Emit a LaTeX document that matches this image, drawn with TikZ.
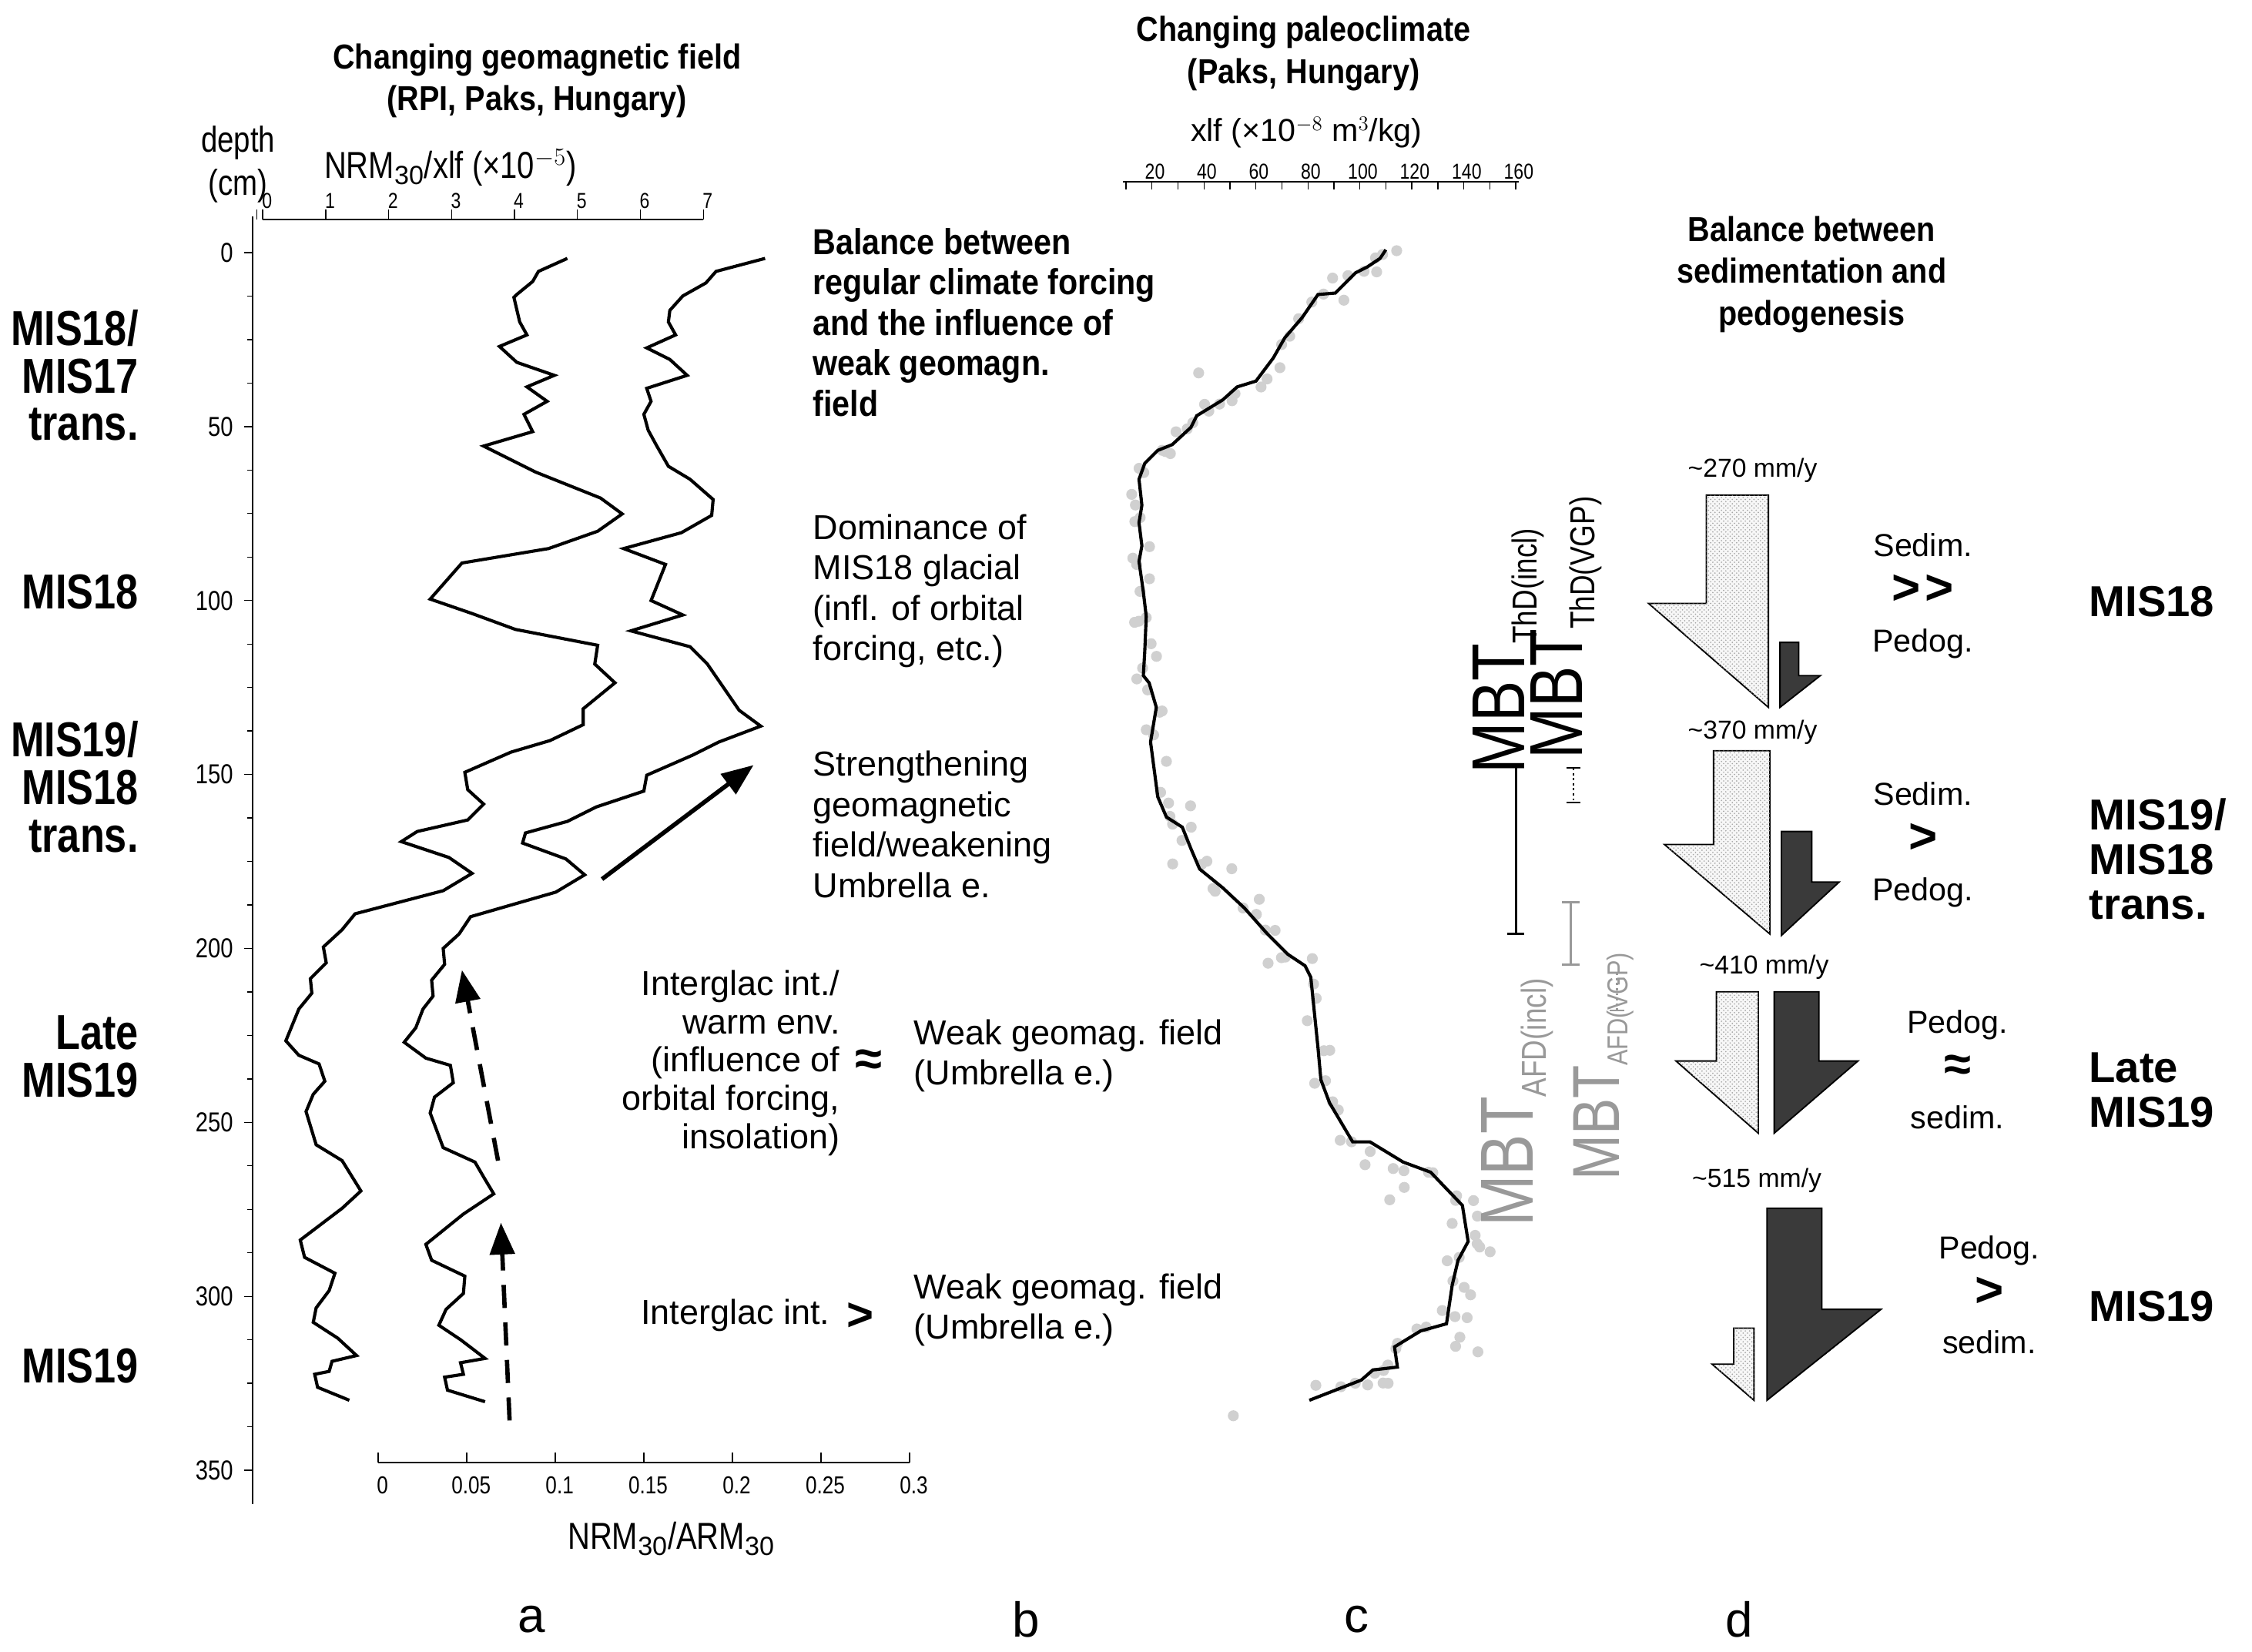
\documentclass[tikz,border=0pt]{standalone}
\usepackage{fontspec}
\setmainfont{Liberation Sans}
\newfontfamily\narrow{Liberation Sans}[FakeStretch=0.82]
\newfontfamily\semi{Liberation Sans}[FakeStretch=0.88]
\usetikzlibrary{patterns,arrows.meta}
\definecolor{dk}{HTML}{3A3A3A}
\definecolor{gr}{HTML}{999999}
\definecolor{dot}{HTML}{D0D0D0}
\begin{document}
\begin{tikzpicture}[x=1pt,y=-1pt,
 curve/.style={line width=2.2pt,line join=miter},
 ax/.style={line width=1.3pt},
 tk/.style={line width=0.7pt},
 tl/.style={font=\narrow\fontsize{15}{15}\selectfont},
 body/.style={font=\fontsize{23}{27}\selectfont,align=left,anchor=north west,inner sep=0},
 narrowbody/.style={font=\narrow\fontsize{26}{28}\selectfont,inner sep=0},
 ttl/.style={font=\semi\bfseries\fontsize{24}{29}\selectfont,align=center,inner sep=0},
 mis/.style={font=\narrow\bfseries\fontsize{34}{33}\selectfont,align=right,anchor=east,inner sep=0},
 misr/.style={font=\bfseries\fontsize{30}{31}\selectfont,align=left,anchor=west,inner sep=0},
 rel/.style={font=\fontsize{22}{37}\selectfont,align=center,inner sep=0},
 stip/.style={draw,line width=1pt,fill=gray!6,postaction={pattern=crosshatch dots,pattern color=gray!70}},
 dark/.style={draw,line width=1pt,fill=dk},
 mbt/.style={font=\narrow\fontsize{52}{52}\selectfont,rotate=90,inner sep=0},
 lab/.style={font=\fontsize{34}{34}\selectfont}]
\useasboundingbox (0,0) rectangle (1560,1144);
% ---------- panel a axes
\draw[ax] (175,150) -- (175,1042);
\draw[ax] (182,152) -- (487,152);
\foreach \k in {0,...,7}{
  \draw[tk] (182+43.6*\k,152) -- (182+43.6*\k,145);
  \node[tl] (ta\k) at (185+43.6*\k,139) {\k};}
\draw[tk] (178,145)--(178,152);
\foreach \d in {0,50,...,350}{
  \draw[tk] (175,175+2.41*\d) -- (169,175+2.41*\d);
  \node[tl,anchor=east,font=\narrow\fontsize{19}{19}\selectfont] (dl\d) at (165,175+2.41*\d) {\d};}
\foreach \d in {12.5,25,37.5,62.5,75,87.5,112.5,125,137.5,162.5,175,187.5,212.5,225,237.5,262.5,275,287.5,312.5,325,337.5}{
  \draw[tk] (175,175+2.41*\d) -- (171,175+2.41*\d);}
\draw[ax] (262,1013) -- (630,1013);
\foreach \v/\t [count=\i] in {0/0,0.05/0.05,0.1/0.1,0.15/0.15,0.2/0.2,0.25/0.25,0.3/0.3}{
  \draw[tk] (262+1226.7*\v,1013) -- (262+1226.7*\v,1006);
  \node[tl,font=\narrow\fontsize{17}{17}\selectfont] (tb\i) at (265+1226.7*\v,1029) {\t};}
\node[narrowbody] (xl1) at (312,116) {NRM$_{\mathrm{30}}$/xlf (×10$^{-5}$)};
\node[narrowbody] (xl2) at (465,1066) {NRM$_{\mathrm{30}}$/ARM$_{\mathrm{30}}$};
\node[narrowbody,align=center,font=\narrow\fontsize{25}{30}\selectfont] (dep) at (165,114) {depth\\(cm)};
\node[ttl] (t1) at (372,56) {Changing geomagnetic field\\(RPI, Paks, Hungary)};
% curves
\draw[curve] (393,179)--(373,188)--(369,195)--(358,204)--(356,206)--(360,223)--(365,232)--(346,240)--(358,251)--(384,260)--(365,268)--(379,278)--(363,287)--(369,299)--(335,309)--(371,327)--(416,345)--(431,356)--(414,368)--(380,380)--(320,390)--(298,415)--(327,425)--(357,436)--(414,447)--(412,460)--(426,473)--(404,491)--(404,502)--(381,513)--(354,521)--(322,535)--(324,547)--(335,557)--(324,568)--(289,576)--(278,583)--(311,594)--(327,605)--(307,617)--(246,633)--(237,644)--(224,656)--(226,667)--(215,678)--(216,688)--(207,699)--(198,721)--(207,731)--(221,737)--(225,749)--(217,758)--(212,770)--(219,793)--(237,804)--(250,825)--(237,837)--(208,859)--(211,871)--(232,882)--(228,894)--(219,906)--(217,916)--(234,927)--(247,939)--(230,943)--(228,950)--(218,952)--(220,961)--(242,970);
\draw[curve] (530,179)--(496,188)--(489,196)--(473,205)--(464,215)--(463,223)--(468,232)--(448,241)--(464,249)--(476,260)--(448,269)--(451,278)--(446,287)--(449,298)--(455,309)--(463,323)--(478,332)--(494,346)--(493,357)--(472,369)--(432,380)--(461,391)--(451,416)--(473,426)--(437,437)--(478,448)--(490,460)--(512,492)--(527,503)--(498,514)--(480,523)--(448,537)--(446,548)--(413,559)--(393,569)--(364,577)--(362,584)--(392,595)--(405,606)--(385,618)--(326,635)--(318,647)--(307,657)--(308,668)--(299,679)--(300,690)--(293,699)--(288,712)--(280,722)--(295,733)--(312,738)--(314,750)--(301,760)--(298,771)--(307,795)--(329,805)--(336,817)--(342,827)--(321,841)--(295,862)--(299,873)--(322,884)--(321,896)--(309,907)--(304,918)--(319,928)--(336,941)--(319,944)--(321,952)--(308,954)--(310,963)--(336,971);
\coordinate (s1) at (417,609); \coordinate (e1) at (522,530);
\draw[line width=3pt,-{Triangle[length=22pt,width=17pt]}] (s1) -- (e1);
\coordinate (s2) at (353,984); \coordinate (e2) at (347,847);
\draw[line width=3pt,dash pattern=on 16pt off 10pt,-{Triangle[length=22pt,width=17pt]}] (s2) -- (e2);
\coordinate (s3) at (345,804); \coordinate (e3) at (320,672);
\draw[line width=3pt,dash pattern=on 16pt off 10pt,-{Triangle[length=22pt,width=17pt]}] (s3) -- (e3);
% left MIS labels
\node[mis] (m1) at (96,260) {MIS18/\\MIS17\\trans.};
\node[mis] (m2) at (96,410) {MIS18};
\node[mis] (m3) at (96,545) {MIS19/\\MIS18\\trans.};
\node[mis] (m4) at (96,732) {Late\\MIS19};
\node[mis] (m5) at (96,946) {MIS19};
% texts b
\node[body,font=\semi\bfseries\fontsize{25}{28}\selectfont] (bal) at (563,158) {Balance between\\regular climate forcing\\and the influence of\\weak geomagn.\\field};
\node[body,font=\fontsize{24}{28}\selectfont] (dom) at (563,356) {Dominance of\\MIS18 glacial\\(infl. of orbital\\forcing, etc.)};
\node[body,font=\fontsize{24}{28}\selectfont] (str) at (563,520) {Strengthening\\geomagnetic\\field/weakening\\Umbrella e.};
\node[body,font=\fontsize{24}{26.5}\selectfont,align=right,anchor=north east] (ig1) at (582,672) {Interglac int./\\warm env.\\(influence of\\orbital forcing,\\insolation)};
\node[font=\bfseries\fontsize{34}{34}\selectfont,inner sep=0] (ap) at (602,736) {≈};
\node[body,font=\fontsize{24}{28}\selectfont] (wg1) at (633,706) {Weak geomag. field\\(Umbrella e.)};
\node[body,font=\fontsize{24}{28}\selectfont,anchor=east] (ig2) at (575,911) {Interglac int.};
\node[font=\bfseries\fontsize{32}{32}\selectfont,inner sep=0] (gt) at (596,912) {>};
\node[body,font=\fontsize{24}{28}\selectfont] (wg2) at (633,882) {Weak geomag. field\\(Umbrella e.)};
% panel c
\node[ttl] (t2) at (903,37) {Changing paleoclimate\\(Paks, Hungary)};
\node[narrowbody,font=\fontsize{22}{22}\selectfont] (xl3) at (905,92) {xlf (×10$^{-8}$ m$^3$/kg)};
\draw[tk,line width=1pt] (778,126) -- (1052,126);
\foreach \v in {10,20,...,160}{\draw[tk] (762+1.8*\v,126) -- (762+1.8*\v,131);}
\foreach \v in {20,40,...,160}{\node[tl] (tc\v) at (764+1.8*\v,119) {\v};}
\pgfmathsetseed{7}
\foreach \x/\y in {968/173,952/180,944/188,928/205,910/207,898/222,886/237,876/262,855/272,842/282,826/292,808/312,792/322,786/340,788/360,796/376,786/392,790/410,794/430,800/445,790/460,795/478,806/490,792/508,805/530,802/548,813/568,822/582,834/596,842/615,862/630,880/646,890/660,906/667,912/690,908/710,917/730,913/748,924/763,940/792,950/795,972/808,990/812,1008/834,1020/855,1014/872,1010/888,1000/910,990/920,970/930,960/946,952/952,940/960,965/958,1012/830,1022/845,1030/870,1018/895,1016/910,1010/925,1005/850,825/560,815/600,855/600,880/670,870/625,818/300,838/285,790/430,800/400,960/960,1005/930,1020/935,852/982,960/830,945/805,975/820,1026/862,830/258}{
  \pgfmathsetmacro{\dx}{rand*4}\pgfmathsetmacro{\dy}{rand*3}
  \fill[dot] (\x+\dx,\y+\dy) circle (3.8pt);}
\foreach \x/\y in {956/179,939/189,913/204,890/234,870/264,847/277,825/296,802/312,789/332,789/362,789/389,794/427,792/468,801/490,802/552,819/573,831/602,862/629,892/661,908/677,915/748,937/791,972/805,1013/835,1010/873,1002/917,966/933,951/949,935/958,920/963,791/350,793/451,797/514,808/566,847/615,878/647,913/726,921/764,991/812,1017/860,1006/890,984/922,943/956,960/186,929/197,880/252,836/283,812/308}{
  \pgfmathsetmacro{\dx}{rand*9}\pgfmathsetmacro{\dy}{rand*5}
  \fill[dot] (\x+\dx,\y+\dy) circle (3.8pt);}
\draw[line width=2.2pt] (960,173)--(956,179)--(947,185)--(939,189)--(925,203)--(913,204)--(902,220)--(890,234)--(882,248)--(870,264)--(857,268)--(847,277)--(829,288)--(825,296)--(812,308)--(802,312)--(793,321)--(789,332)--(791,350)--(789,362)--(791,378)--(789,389)--(792,410)--(794,427)--(793,451)--(792,468)--(796,473)--(801,490)--(797,514)--(802,552)--(808,566)--(819,573)--(825,588)--(831,602)--(847,615)--(862,629)--(878,647)--(892,661)--(904,669)--(908,677)--(913,726)--(915,748)--(921,764)--(937,791)--(949,791)--(972,805)--(991,812)--(1013,835)--(1017,860)--(1010,873)--(1006,890)--(1002,917)--(984,922)--(966,933)--(968,947)--(951,949)--(943,956)--(907,970);
% MBT bars
\draw[line width=1.5pt] (1050,530) -- (1050,647);
\draw[line width=1.5pt] (1044,530)--(1056,530) (1044,647)--(1056,647);
\draw[line width=1.5pt,dotted] (1090,532) -- (1090,556);
\draw[line width=1pt] (1085,532)--(1095,532) (1085,556)--(1095,556);
\draw[gr,line width=1.5pt] (1088,625) -- (1088,668);
\draw[gr,line width=1.5pt] (1082,625)--(1094,625) (1082,668)--(1094,668);
\draw[gr,line width=1.5pt,dotted] (1120,674) -- (1120,700);
\draw[gr,line width=1pt] (1115,674)--(1125,674) (1115,700)--(1125,700);
\node[mbt,anchor=south west] (mb1) at (1070,536) {MBT$_{\mbox{\narrow\fontsize{24}{24}\selectfont ThD(incl)}}$};
\node[mbt,anchor=south west] (mb2) at (1110,526) {MBT$_{\mbox{\narrow\fontsize{24}{24}\selectfont ThD(VGP)}}$};
\node[mbt,anchor=south west,text=gr] (mb3) at (1076,850) {MBT$_{\mbox{\narrow\fontsize{24}{24}\selectfont AFD(incl)}}$};
\node[mbt,anchor=south west,text=gr,font=\narrow\fontsize{46}{46}\selectfont] (mb4) at (1132,818) {MBT$_{\mbox{\narrow\fontsize{20}{20}\selectfont AFD(VGP)}}$};
% panel d
\node[ttl] (t3) at (1255,190) {Balance between\\sedimentation and\\pedogenesis};
\node[font=\fontsize{18}{18}\selectfont] (r1) at (1214,326) {\textasciitilde 270 mm/y};
\draw[stip] (1182,343)--(1225,343)--(1225,490)--(1142,418)--(1182,418)--cycle;
\draw[dark] (1233,445)--(1246,445)--(1246,468)--(1261,468)--(1233,490)--cycle;
\node[font=\fontsize{18}{18}\selectfont] (r2) at (1214,507) {\textasciitilde 370 mm/y};
\draw[stip] (1187,520)--(1226,520)--(1226,647)--(1153,585)--(1187,585)--cycle;
\draw[dark] (1234,576)--(1255,576)--(1255,611)--(1274,611)--(1234,648)--cycle;
\node[font=\fontsize{18}{18}\selectfont] (r3) at (1222,670) {\textasciitilde 410 mm/y};
\draw[stip] (1189,687)--(1218,687)--(1218,785)--(1161,735)--(1189,735)--cycle;
\draw[dark] (1229,687)--(1260,687)--(1260,735)--(1287,735)--(1229,785)--cycle;
\node[font=\fontsize{18}{18}\selectfont] (r4) at (1217,818) {\textasciitilde 515 mm/y};
\draw[stip] (1201,920)--(1215,920)--(1215,970)--(1186,945)--(1201,945)--cycle;
\draw[dark] (1224,837)--(1262,837)--(1262,907)--(1303,907)--(1224,970)--cycle;
\node[rel] (re1) at (1332,413) {Sedim.\\[-4pt]{\bfseries\fontsize{34}{34}\selectfont >\kern3pt>}\\[-4pt]Pedog.};
\node[rel] (re2) at (1332,585) {Sedim.\\[-4pt]{\bfseries\fontsize{34}{34}\selectfont >}\\[-4pt]Pedog.};
\node[rel] (re3) at (1356,741) {Pedog.\\[-4pt]{\bfseries\fontsize{34}{34}\selectfont ≈}\\[-4pt]sedim.};
\node[rel] (re4) at (1378,897) {Pedog.\\[-4pt]{\bfseries\fontsize{34}{34}\selectfont >}\\[-4pt]sedim.};
\node[misr] (n1) at (1447,417) {MIS18};
\node[misr] (n2) at (1447,595) {MIS19/\\MIS18\\trans.};
\node[misr] (n3) at (1447,755) {Late\\MIS19};
\node[misr] (n4) at (1447,905) {MIS19};
% letters
\node[lab] (la) at (368,1122) {a};
\node[lab] (lb) at (711,1122) {b};
\node[lab] (lc) at (940,1122) {c};
\node[lab] (ld) at (1205,1122) {d};
\end{tikzpicture}
\end{document}
